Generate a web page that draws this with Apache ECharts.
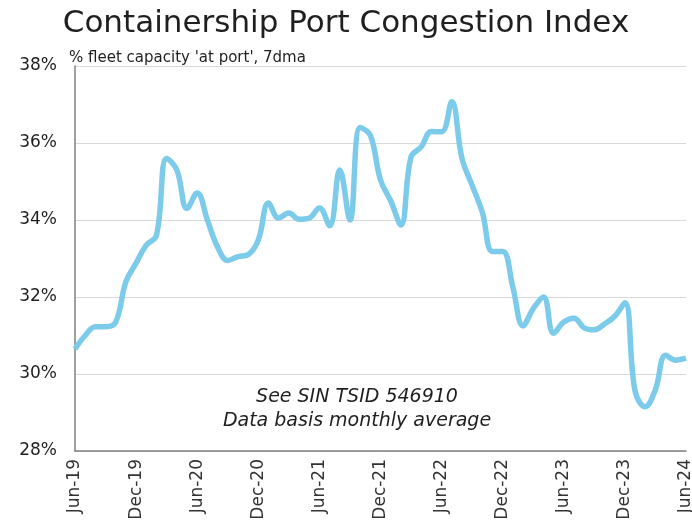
<!DOCTYPE html>
<html>
<head>
<meta charset="utf-8">
<script src="https://cdn.jsdelivr.net/npm/echarts@6/dist/echarts.min.js"></script>
<style>
  html, body { margin: 0; padding: 0; background: #fff; }
  #chart { width: 692px; height: 521px; }
</style>
</head>
<body>
<div id="chart"></div>
<script>
// monthly categories, Jun-19 .. Jun-24
const months = [
  'Jun-19', 'Jul-19', 'Aug-19', 'Sep-19', 'Oct-19', 'Nov-19', 'Dec-19',
  'Jan-20', 'Feb-20', 'Mar-20', 'Apr-20', 'May-20', 'Jun-20', 'Jul-20', 'Aug-20', 'Sep-20', 'Oct-20', 'Nov-20', 'Dec-20',
  'Jan-21', 'Feb-21', 'Mar-21', 'Apr-21', 'May-21', 'Jun-21', 'Jul-21', 'Aug-21', 'Sep-21', 'Oct-21', 'Nov-21', 'Dec-21',
  'Jan-22', 'Feb-22', 'Mar-22', 'Apr-22', 'May-22', 'Jun-22', 'Jul-22', 'Aug-22', 'Sep-22', 'Oct-22', 'Nov-22', 'Dec-22',
  'Jan-23', 'Feb-23', 'Mar-23', 'Apr-23', 'May-23', 'Jun-23', 'Jul-23', 'Aug-23', 'Sep-23', 'Oct-23', 'Nov-23', 'Dec-23',
  'Jan-24', 'Feb-24', 'Mar-24', 'Apr-24', 'May-24', 'Jun-24'
]

// % fleet capacity at port (monthly average)
const congestion = [
  30.65, 31.0, 31.23, 31.23, 31.35, 32.4, 32.88,
  33.35, 33.6, 35.6, 35.3, 34.3, 34.7, 34.0, 33.3, 32.95, 33.05, 33.1, 33.48,
  34.44, 34.05, 34.18, 34.02, 34.05, 34.31, 33.85, 35.3, 34.0, 36.4, 36.2, 35.04,
  34.5, 33.87, 35.64, 35.9, 36.3, 36.29, 37.07, 35.6, 34.9, 34.2, 33.18, 33.18,
  32.25, 31.25, 31.7, 32.0, 31.06, 31.35, 31.45, 31.2, 31.15, 31.3, 31.5, 31.85,
  29.55, 29.15, 29.6, 30.49, 30.36, 30.41
]

const yTicks = { min: 28, max: 38, step: 2 }

const chart = echarts.init(document.getElementById('chart'))
chart.setOption({
  animation: false,
  textStyle: { fontFamily: 'DejaVu Sans' },
  title: [
    {
      text: 'Containership Port Congestion Index',
      left: 'center',
      top: 3,
      textStyle: { fontSize: 31, fontWeight: 'normal', color: '#1f1f1f' }
    },
    {
      text: "% fleet capacity 'at port', 7dma",
      left: 64,
      top: 46,
      textStyle: { fontSize: 15, fontWeight: 'normal', color: '#1f1f1f' }
    }
  ],
  graphic: [
    {
      type: 'text',
      x: 357,
      y: 385,
      style: {
        text: 'See SIN TSID 546910\nData basis monthly average',
        align: 'center',
        fontSize: 19,
        fontStyle: 'italic',
        lineHeight: 24,
        fill: '#1f1f1f',
        fontFamily: 'DejaVu Sans'
      }
    }
  ],
  grid: { left: 75, right: 6, top: 66, bottom: 70, outerBoundsMode: 'none', containLabel: false },
  xAxis: {
    type: 'category',
    data: months,
    boundaryGap: false,
    axisLine: { lineStyle: { color: '#808080', width: 1.5 } },
    axisTick: { show: false },
    axisLabel: {
      interval: 5,
      rotate: 90,
      fontSize: 17,
      color: '#333',
      margin: 8,
      padding: [6, 0, 0, 0],
      hideOverlap: false
    }
  },
  yAxis: {
    type: 'value',
    min: yTicks.min,
    max: yTicks.max,
    interval: yTicks.step,
    axisLine: { show: true, lineStyle: { color: '#808080', width: 1.5 } },
    axisTick: { show: false },
    axisLabel: { formatter: '{value}%', fontSize: 17, color: '#1f1f1f', margin: 18 },
    splitLine: { lineStyle: { color: '#d9d9d9' } }
  },
  series: [
    {
      type: 'line',
      data: congestion,
      smooth: 0.4,
      showSymbol: false,
      lineStyle: { color: '#7ccbeb', width: 5.5 }
    }
  ]
})
</script>
</body>
</html>
